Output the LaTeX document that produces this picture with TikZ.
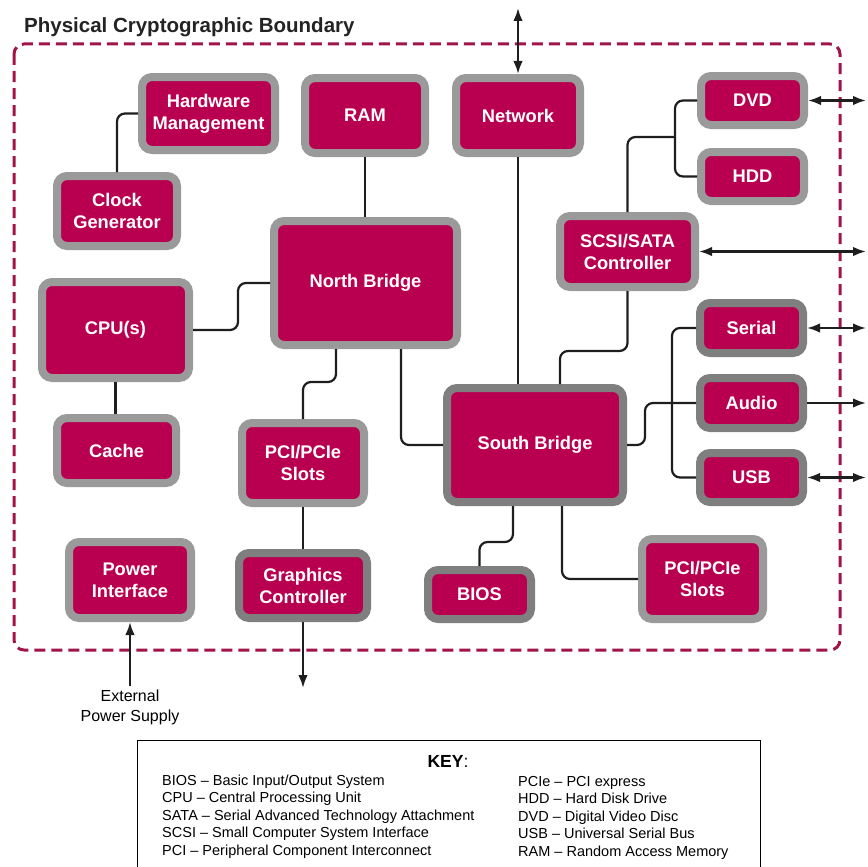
\documentclass[tikz,border=0pt]{standalone}
\usepackage{fontspec}
\setmainfont{Liberation Sans}
\usetikzlibrary{arrows.meta}
\definecolor{boxred}{RGB}{185,0,80}
\definecolor{boundred}{RGB}{160,20,72}
\definecolor{rimlight}{RGB}{154,154,154}
\definecolor{rimdark}{RGB}{127,127,127}
\definecolor{wiregray}{RGB}{30,30,30}
\definecolor{titlegray}{RGB}{35,35,35}
\begin{document}
\begin{tikzpicture}[x = 1pt, y = -1pt,
		block/.style = {draw = rimlight, line width = 8pt, fill = boxred, rounded corners = 10pt, text = white, align = center, inner sep = 0pt, font = \bfseries\fontsize{18.3}{22}\selectfont},
		darkblock/.style = {block, draw = rimdark},
		wire/.style = {draw = wiregray, line width = 2.2pt, rounded corners = 8pt},
		keytext/.style = {anchor = base west, inner sep = 0pt, font = \fontsize{14.5}{17}\selectfont},
		> = {Latex[length = 13pt, width = 9.5pt]}]
	\useasboundingbox (0,0) rectangle (867,867);
	\draw[boundred, line width = 3pt, dash pattern = on 11pt off 6pt, rounded corners = 10pt] (14,44) rectangle (840,650);
	\node[anchor = base west, inner sep = 0pt, text = titlegray, font = \bfseries\fontsize{20.5}{24}\selectfont] (title) at (24,33) {Physical Cryptographic Boundary};
	\foreach \nm/\sty/\x/\y/\w/\h/\txt in {
			hwm/block/208.5/113.5/133/73/{Hardware\\Management},
			ram/block/365/115.5/120/75/{RAM},
			net/block/518/115.5/124/75/{Network},
			dvd/block/752.5/100.5/103/49/{DVD},
			hdd/block/752.5/176.5/103/49/{HDD},
			clk/block/117/211/120/70/{Clock\\Generator},
			nb/block/365.5/283/183/124/{North Bridge},
			scsi/block/627.5/251.5/135/71/{SCSI/SATA\\Controller},
			cpu/block/115.5/330/147/96/{CPU(s)},
			serial/darkblock/751.5/328/103/50/{Serial},
			audio/darkblock/751.5/403/103/50/{Audio},
			usb/darkblock/751.5/477.5/103/49/{USB},
			sb/darkblock/535/445/176/114/{South Bridge},
			cache/block/116.5/450.5/119/65/{Cache},
			pcil/block/303/463/122/80/{PCI/PCIe\\Slots},
			pwr/block/130/580/122/76/{Power\\Interface},
			gfx/darkblock/303/585.5/128/65/{Graphics\\Controller},
			bios/darkblock/479.5/594.5/103/49/{BIOS},
			pcir/block/702.5/579/121/80/{PCI/PCIe\\Slots}}
		{
			\node[\sty, minimum width = \w, minimum height = \h] (\nm) at (\x,\y) {\txt};
		}
	\draw[wire] (clk.north) |- (hwm.west);
	\draw[wire] (ram.south) -- (ram.south |- nb.north);
	\draw[wire] (net.south) -- (net.south |- sb.north);
	\coordinate (scsijoin) at (675,137);
	\draw[wire] (scsi.north) |- (scsijoin);
	\draw[wire] (dvd.west) -| (scsijoin) |- (hdd.west);
	\coordinate (sbjog) at (560,351);
	\draw[wire] (scsi.south) |- (sbjog) -- (sbjog |- sb.north);
	\coordinate (cpujog) at (238,306);
	\draw[wire] (nb.west) -| (cpujog) |- (cpu.east);
	\draw[wire] (cpu.south) -- (cpu.south |- cache.north);
	\draw[wire] (nb.south -| 336,0) |- (320,382) -| (pcil.north);
	\draw[wire] (nb.south -| 401,0) |- (sb.west);
	\draw[wire] (pcil.south) -- (gfx.north);
	\draw[wire] (sb.east) -| (645,424) |- (audio.west);
	\draw[wire] (serial.west) -| (672,403) |- (usb.west);
	\draw[wire] (sb.south -| 513,0) |- (495,542) -| (bios.north);
	\draw[wire] (sb.south -| 562,0) |- (pcir.west);
	\coordinate (netext) at (518,8);
	\draw[wire, <->] (net.north) -- (netext);
	\foreach \nm in {dvd, scsi, serial, usb}
		{
			\coordinate (ext\nm) at (\nm.east -| 866,0);
			\draw[wire, <->] (\nm.east) -- (ext\nm);
		}
	\coordinate (extaudio) at (audio.east -| 866,0);
	\draw[wire, ->] (audio.east) -- (extaudio);
	\coordinate (pwrext) at (130,686);
	\draw[wire, ->] (pwrext) -- (pwr.south);
	\node[anchor = north, align = center, inner sep = 0pt, font = \fontsize{16}{20}\selectfont] (supply) at (130,690) {External\\Power Supply};
	\coordinate (gfxext) at (303,688);
	\draw[wire, ->] (gfx.south) -- (gfxext);
	\node[draw, line width = 1pt, minimum width = 623, minimum height = 140, inner sep = 0pt] (key) at (448.5,810) {};
	\node[anchor = base, inner sep = 0pt, font = \fontsize{17.5}{20}\selectfont] (keytitle) at (448,767) {\textbf{KEY}:};
	\foreach \txt [count = \i] in {BIOS – Basic Input/Output System, CPU – Central Processing Unit, SATA – Serial Advanced Technology Attachment, SCSI – Small Computer System Interface, PCI – Peripheral Component Interconnect}
		{
			\node[keytext] (keyl\i) at (162, 767.5 + 17.5*\i) {\txt};
		}
	\foreach \txt [count = \i] in {PCIe – PCI express, HDD – Hard Disk Drive, DVD – Digital Video Disc, USB – Universal Serial Bus, RAM – Random Access Memory}
		{
			\node[keytext] (keyr\i) at (518, 768.5 + 17.5*\i) {\txt};
		}
\end{tikzpicture}
\end{document}
